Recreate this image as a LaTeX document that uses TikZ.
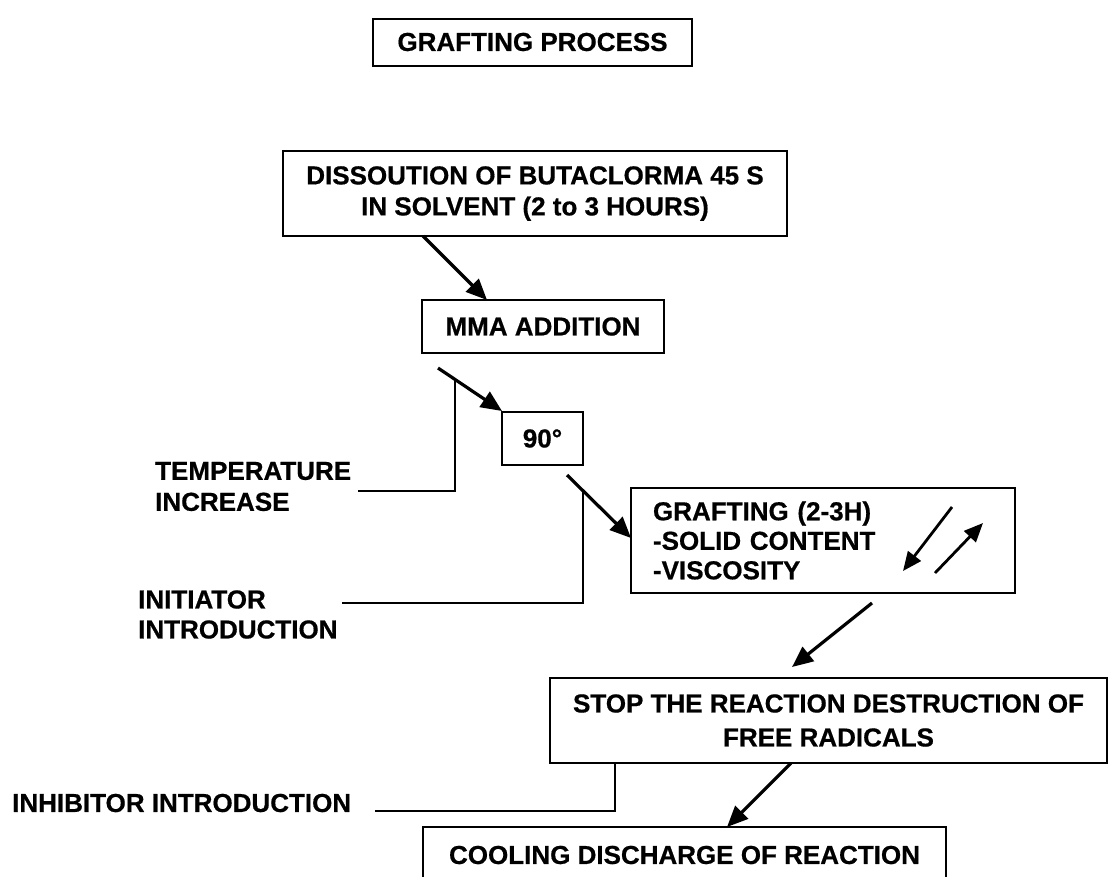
\documentclass[tikz,border=0pt]{standalone}
\usepackage{fontspec}
\setmainfont{Liberation Sans}[BoldFeatures={FakeBold=0.6}]
\usetikzlibrary{arrows.meta}
\begin{document}
\begin{tikzpicture}[x=1pt,y=-1pt,
  box/.style={draw, line width=2pt, inner sep=0pt, font=\bfseries\fontsize{26}{31}\selectfont, align=center},
  lbl/.style={inner sep=0pt, font=\bfseries\fontsize{26}{31}\selectfont, align=left, anchor=west},
  arr/.style={line width=3.2pt, -{Triangle[length=21pt,width=18pt]}},
  smallarr/.style={line width=2.8pt, -{Triangle[length=19pt,width=16pt]}},
  brk/.style={line width=2pt}]
\useasboundingbox (0,0) rectangle (1110,876);
\clip (0,0) rectangle (1110,876);
\fill[white] (0,0) rectangle (1110,876);

% boxes
\node[box, minimum width=319pt, minimum height=47pt] (title) at (532.5,42) {GRAFTING PROCESS};
\node[box, minimum width=504pt, minimum height=85pt] (dis) at (535,193.5) {DISSOUTION OF BUTACLORMA 45 S\\IN SOLVENT (2 to 3 HOURS)};
\node[box, minimum width=242pt, minimum height=53pt] (mma) at (543,326.5) {MMA ADDITION};
\node[box, minimum width=81pt, minimum height=53pt] (t90) at (542.5,438.5) {90°};
\node[box, minimum width=384pt, minimum height=105pt, text width=340pt, align=left, font=\bfseries\fontsize{26}{29.5}\selectfont] (graft) at (823,540.5) {GRAFTING (2-3H)\\-SOLID CONTENT\\-VISCOSITY};
\node[box, minimum width=557pt, minimum height=85pt, font=\bfseries\fontsize{26}{34}\selectfont] (stop) at (828.5,720.5) {STOP THE REACTION DESTRUCTION OF\\FREE RADICALS};
\node[box, minimum width=523pt, minimum height=56pt] (cool) at (684.5,855) {COOLING DISCHARGE OF REACTION};

% side labels
\node[lbl] (temp) at (155,486.5) {TEMPERATURE\\INCREASE};
\node[lbl, font=\bfseries\fontsize{26}{30}\selectfont] (init) at (138,614.5) {INITIATOR\\INTRODUCTION};
\node[lbl] (inhib) at (12,803) {INHIBITOR INTRODUCTION};

% arrow end points
\coordinate (a1s) at (423,236); \coordinate (a1e) at (487,300);
\coordinate (a2s) at (438,368); \coordinate (a2e) at (502,411);
\coordinate (a3s) at (567,475); \coordinate (a3e) at (631,538);
\coordinate (a4s) at (872,603); \coordinate (a4e) at (792,667);
\coordinate (a5s) at (791,763); \coordinate (a5e) at (727,827);
\coordinate (a6s) at (952,507); \coordinate (a6e) at (903,571);
\coordinate (a7s) at (935,573); \coordinate (a7e) at (983,523);

\draw[arr] (a1s) -- (a1e);
\draw[arr] (a2s) -- (a2e);
\draw[arr] (a3s) -- (a3e);
\draw[arr] (a4s) -- (a4e);
\draw[arr] (a5s) -- (a5e);
\draw[smallarr] (a6s) -- (a6e);
\draw[smallarr] (a7s) -- (a7e);

% brackets
\coordinate (b1top) at (455,381); \coordinate (b1end) at (358,491);
\coordinate (b2top) at (583,491); \coordinate (b2end) at (342,603);
\coordinate (b3top) at (615,763); \coordinate (b3end) at (375,811);
\draw[brk] (b1top) |- (b1end);
\draw[brk] (b2top) |- (b2end);
\draw[brk] (b3top) |- (b3end);
\end{tikzpicture}
\end{document}
